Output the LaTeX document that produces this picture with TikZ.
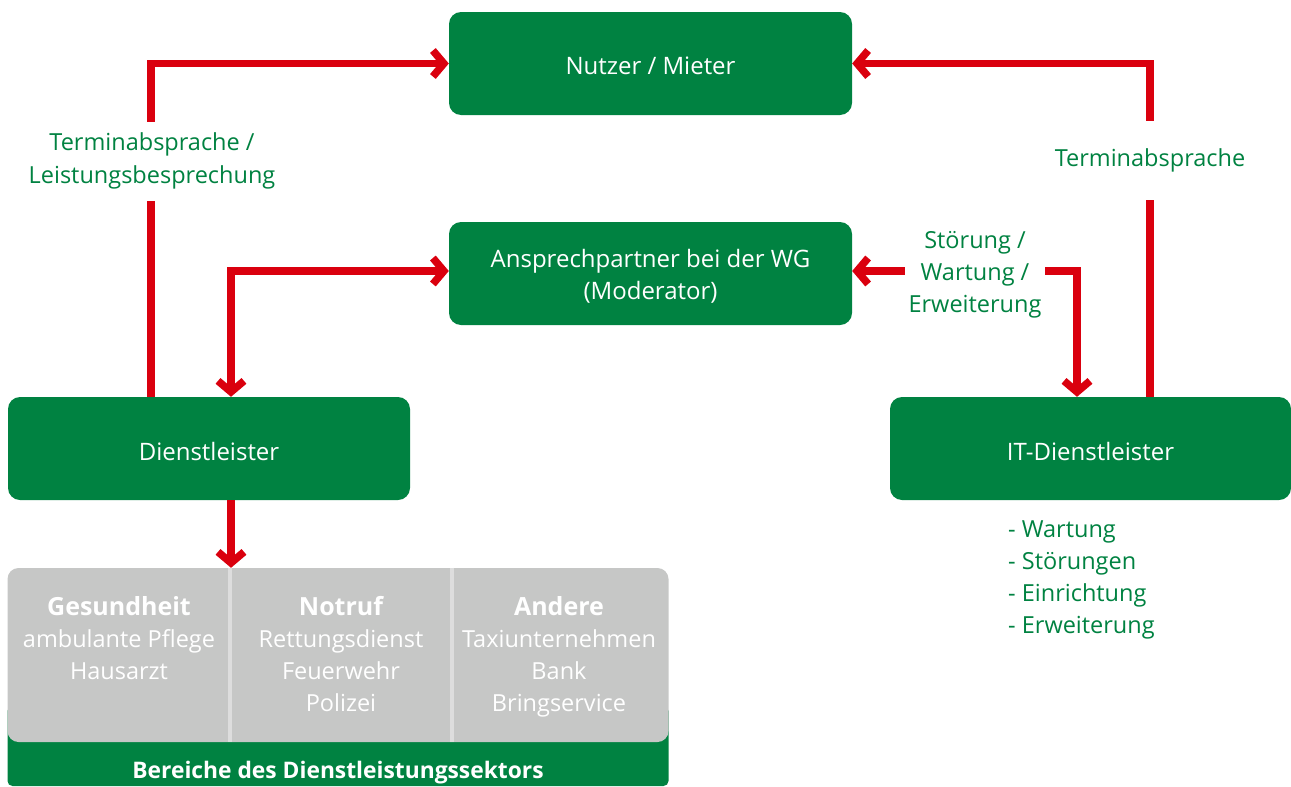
\documentclass[tikz,border=0pt]{standalone}
\usepackage{fontspec}
\setmainfont{Open Sans}
\usetikzlibrary{arrows.meta}
\definecolor{wggreen}{RGB}{0,130,65}
\definecolor{wgred}{RGB}{218,0,14}
\definecolor{wggray}{RGB}{198,199,198}
\definecolor{wgsep}{RGB}{221,221,221}
\newcommand{\wgfsz}{\fontsize{23.5}{32}\selectfont}
\newcommand{\wgbsz}{\fontsize{24}{32}\selectfont}
\newcommand{\wghead}[1]{{\fontsize{25}{32}\selectfont\bfseries #1}}
\begin{document}
\begin{tikzpicture}[x=1pt,y=-1pt,
  >={Straight Barb[length=11pt,width=26pt,line width=7.5pt,sharp]},
  box/.style={fill=wggreen, rounded corners=12pt, minimum height=103pt, inner sep=0pt,
    label={[text=white, font=\wgbsz, align=center, inner sep=0pt, yshift=-2.5pt]center:#1}},
  arr/.style={draw=wgred, line width=7.5pt},
  lbl/.style={text=wggreen, font=\wgfsz, align=center, fill=white, inner sep=0pt},
  coltext/.style={text=white, font=\wgfsz, align=center, anchor=north, inner sep=0pt},
  sepline/.style={draw=wgsep, line width=4pt}
]
\useasboundingbox (0,0) rectangle (1291,787);
% boxes
\node[box={Nutzer / Mieter}, minimum width=403pt] (nutzer) at (650.5,63.5) {};
\node[box={Ansprechpartner bei der WG\\(Moderator)}, minimum width=403pt] (ansp) at (650.5,273.5) {};
\node[box={Dienstleister}, minimum width=402pt] (dl) at (209,448.5) {};
\node[box={IT-Dienstleister}, minimum width=401pt] (itdl) at (1090.5,448.5) {};
% sector table
\node[fill=wggreen, rounded corners=5pt, minimum width=661pt, minimum height=80pt, inner sep=0pt] (band) at (338,746) {};
\node[fill=wggray, rounded corners=11pt, minimum width=661pt, minimum height=174pt, inner sep=0pt] (sektor) at (338,655) {};
\coordinate (s1) at (230,0);
\coordinate (s2) at (452,0);
\draw[sepline] (sektor.north -| s1) -- (sektor.south -| s1);
\draw[sepline] (sektor.north -| s2) -- (sektor.south -| s2);
\node[coltext] (c1) at (119,596) {\wghead{Gesundheit}\\ambulante Pflege\\Hausarzt};
\node[coltext] (c2) at (341,596) {\wghead{Notruf}\\Rettungsdienst\\Feuerwehr\\Polizei};
\node[coltext] (c3) at (559,596) {\wghead{Andere}\\Taxiunternehmen\\Bank\\Bringservice};
\node[text=white, font=\fontsize{22.8}{30}\selectfont\bfseries, inner sep=0pt] (bandtext) at (338,773) {Bereiche des Dienstleistungssektors};
% connectors
\draw[arr,->] ([xshift=-58pt]dl.north) |- (nutzer.west);
\draw[arr,->] ([xshift=59.5pt]itdl.north) |- (nutzer.east);
\draw[arr,<->] ([xshift=22pt]dl.north) |- ([yshift=2.5pt]ansp.west);
\draw[arr,<->] ([xshift=-13.5pt]itdl.north) |- ([yshift=2.5pt]ansp.east);
\draw[arr,->] ([xshift=22pt]dl.south) -- ([xshift=22pt]dl.south |- sektor.north);
% labels
\node[lbl, minimum height=79pt, font=\fontsize{23.5}{33}\selectfont] (l1) at (152,161) {Terminabsprache /\\Leistungsbesprechung};
\node[lbl, minimum height=79pt] (l2) at (1150,160) {Terminabsprache};
\node[lbl, minimum width=140pt] (l3) at (975,275) {Störung /\\Wartung /\\Erweiterung};
\node[text=wggreen, font=\wgfsz, align=left, anchor=north west, inner sep=0pt] (itlist) at (1008,521) {- Wartung\\- Störungen\\- Einrichtung\\- Erweiterung};
\end{tikzpicture}
\end{document}
